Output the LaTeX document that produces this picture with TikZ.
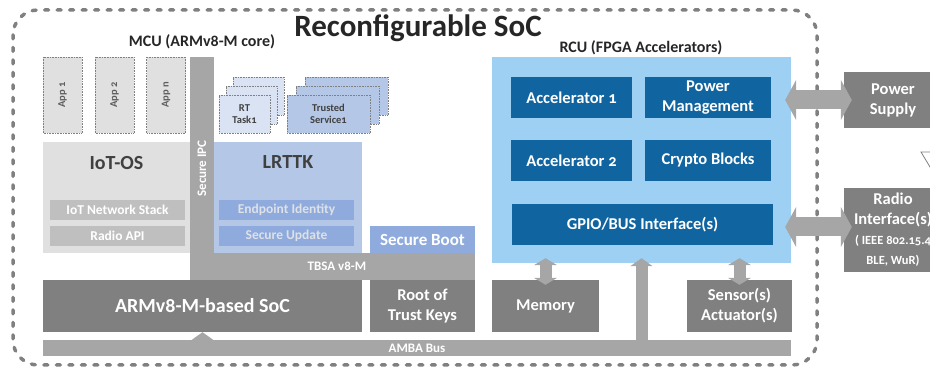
\documentclass[tikz,border=0pt]{standalone}
\usepackage{fontspec}
\setmainfont{Carlito}[Numbers=OldStyle]
\usetikzlibrary{positioning,arrows.meta}

\definecolor{lgray}{HTML}{E0E0E0}
\definecolor{mgray}{HTML}{BFBFBF}
\definecolor{bgray}{HTML}{A6A6A6}
\definecolor{dgray}{HTML}{808080}
\definecolor{tgray}{HTML}{404040}
\definecolor{lrblue}{HTML}{B4C7E7}
\definecolor{mblue}{HTML}{8FAADC}
\definecolor{pblue}{HTML}{DAE3F3}
\definecolor{rcublue}{HTML}{9DD0F3}
\definecolor{dblue}{HTML}{1064A0}

\begin{document}
\begin{tikzpicture}[
    x=1pt, y=-1pt,
    box/.style={rectangle, inner sep=0pt, align=center, text=white, font=\bfseries\fontsize{16.5}{20}\selectfont},
    grey/.style={box, fill=dgray},
    bar/.style={box, fill=bgray, font=\bfseries\fontsize{13}{15}\selectfont},
    app/.style={box, fill=lgray, draw=dgray, densely dotted, line width=0.6pt, text=tgray!85, font=\bfseries\fontsize{10.5}{12}\selectfont},
    sub/.style={box, minimum width=135pt, minimum height=20pt, font=\bfseries\fontsize{13.5}{15}\selectfont},
    acc/.style={box, fill=dblue, minimum height=41pt, font=\bfseries\fontsize{16.5}{19.5}\selectfont},
    lbl/.style={text=tgray, font=\bfseries\fontsize{20}{24}\selectfont},
    hdr/.style={anchor=base, text=black!85, font=\bfseries\fontsize{16}{19}\selectfont},
    border/.style={draw=dgray, line width=3.5pt, line cap=round, dash pattern=on 4pt off 8.5pt, rounded corners=25pt},
    hdbl/.style={draw=bgray, line width=19pt, shorten <=-6pt, shorten >=-8pt, arrows={Triangle[length=11pt,width=40pt]-Triangle[length=11pt,width=40pt]}},
    vdbl/.style={draw=bgray, line width=12pt, shorten <=-5pt, shorten >=-5pt, arrows={Triangle[length=7pt,width=23pt]-Triangle[length=7pt,width=23pt]}},
    up/.style={draw=bgray, line width=12pt, arrows={-Triangle[length=8pt,width=22pt]}}
]
\path[use as bounding box] (0,0) rectangle (930,371);
\clip (0,0) rectangle (930,371);

\draw[border] (13,10) rectangle (817,365);
\node[anchor=base, text=black!85, font=\bfseries\fontsize{31}{36}\selectfont] (title) at (418,37) {Reconfigurable SoC};
\node[hdr] (mculbl) at (202,47) {MCU (ARMv8-M core)};
\node[hdr] (rculbl) at (641,53) {RCU (FPGA Accelerators)};

\node[app, rotate=90, minimum width=76pt, minimum height=39pt] (app1) at (62.5,95) {App 1};
\node[app, rotate=90, minimum width=76pt, minimum height=39pt] (app2) at (114.5,95) {App 2};
\node[app, rotate=90, minimum width=76pt, minimum height=39pt] (appn) at (166,95) {App n};

\node[app, fill=pblue, text=tgray, minimum width=51pt, minimum height=38pt] (rt3) at (258.5,96) {};
\node[app, fill=pblue, text=tgray, minimum width=51pt, minimum height=38pt] (rt2) at (251.5,105) {};
\node[app, fill=pblue, text=tgray, minimum width=51pt, minimum height=38pt] (rt1) at (244.5,114) {RT\\Task1};
\node[app, fill=lrblue, text=tgray, minimum width=83pt, minimum height=38pt] (ts3) at (346.5,96) {};
\node[app, fill=lrblue, text=tgray, minimum width=83pt, minimum height=38pt] (ts2) at (337.5,105) {};
\node[app, fill=lrblue, text=tgray, minimum width=83pt, minimum height=38pt] (ts1) at (328.5,114) {Trusted\\Service1};

\node[bar, rotate=90, minimum width=223pt, minimum height=24pt] (ipc) at (202,168.5) {Secure IPC};
\node[bar, minimum width=285pt, minimum height=27pt] (tbsa) at (332.5,266.5) {\hspace{9pt}TBSA v8-M};

\node[box, fill=lgray, minimum width=147pt, minimum height=111pt] (iotos) at (116.5,197.5) {};
\node[lbl] (iotlbl) at (116.5,163) {IoT-OS};
\node[sub, fill=mgray] (netstack) at (117.5,210) {IoT Network Stack};
\node[sub, fill=mgray] (radioapi) at (117.5,236) {Radio API};

\node[box, fill=lrblue, minimum width=148pt, minimum height=111pt] (lrttk) at (288,197.5) {};
\node[lbl] (lrttklbl) at (288,162) {LRTTK};
\node[sub, fill=mblue, text=lgray!70!pblue] (endpoint) at (286.5,210) {Endpoint Identity};
\node[sub, fill=mblue, text=lgray!70!pblue] (secupd) at (286.5,236) {Secure Update};

\node[box, fill=mblue, minimum width=105pt, minimum height=27pt, font=\bfseries\fontsize{17}{20}\selectfont] (secboot) at (422.5,239.5) {Secure Boot};

\node[grey, minimum width=319pt, minimum height=52pt, font=\bfseries\fontsize{20}{24}\selectfont] (armsoc) at (202.5,306) {ARMv8-M-based SoC};
\node[grey, minimum width=105pt, minimum height=52pt] (rotk) at (422.5,306) {Root of\\Trust Keys};
\node[bar, minimum width=748pt, minimum height=16pt] (amba) at (417,348) {AMBA Bus};

\node[box, fill=rcublue, minimum width=299pt, minimum height=206pt] (rcu) at (641.5,160) {};
\node[acc, minimum width=121pt] (acc1) at (571.5,97.5) {Accelerator 1};
\node[acc, minimum width=126pt] (pwrmgmt) at (708,97.5) {Power\\Management};
\node[acc, minimum width=121pt] (acc2) at (571.5,160.5) {Accelerator 2};
\node[acc, minimum width=126pt] (crypto) at (708,160.5) {Crypto Blocks};
\node[acc, minimum width=261pt] (gpio) at (642.5,224.5) {GPIO/BUS Interface(s)};

\node[grey, minimum width=107pt, minimum height=52pt] (memory) at (545.5,306) {Memory};
\node[grey, minimum width=105pt, minimum height=52pt] (sensor) at (739.5,306) {Sensor(s)\\Actuator(s)};

\node[grey, minimum width=98pt, minimum height=56pt] (power) at (893,100) {Power\\Supply};
\node[grey, minimum width=98pt, minimum height=84pt] (radio) at (893,230) {Radio\\Interface(s)\\{\fontsize{12.5}{15}\selectfont ( IEEE 802.15.4}\\{\fontsize{12.5}{15}\selectfont BLE, WuR)}};
\draw[dgray, line width=0.8pt] (921,152) -- (945,152) -- (933,172) -- cycle;

\draw[hdbl] (rcu.east |- power.west) -- (power.west);
\draw[hdbl] ([yshift=3pt]radio.west -| rcu.east) -- ([yshift=3pt]radio.west);
\draw[vdbl] (memory.north |- rcu.south) -- (memory.north);
\draw[vdbl] (sensor.north |- rcu.south) -- (sensor.north);
\draw[up] (amba.north -| rcu.south) -- ([yshift=5pt]rcu.south);
\draw[up] (amba.north -| armsoc.south) -- (armsoc.south);

\end{tikzpicture}
\end{document}
